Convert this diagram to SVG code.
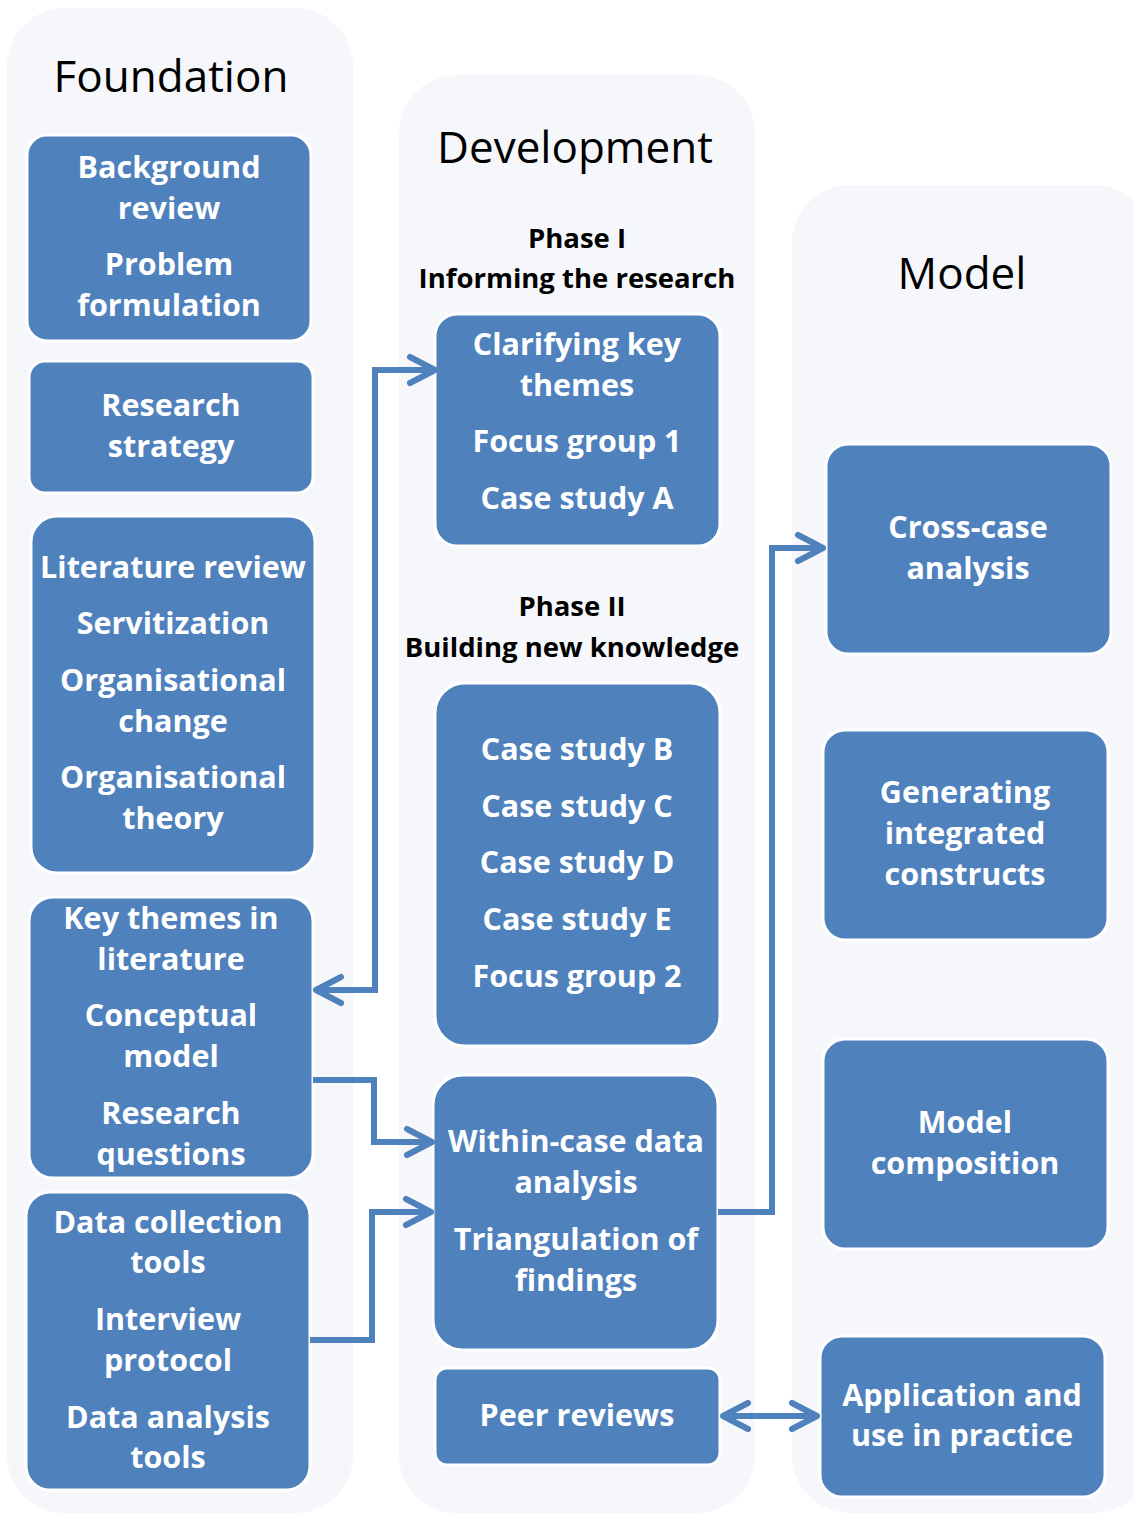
<svg xmlns="http://www.w3.org/2000/svg" width="1134" height="1513" viewBox="0 0 1134 1513">
<defs>
<style>
.panel{fill:#F5F7FB;}
.box{fill:#4F81BD;stroke:#FFFFFF;stroke-width:3;}
.bt{font-family:"Open Sans","Liberation Sans",sans-serif;font-weight:700;font-size:30.5px;fill:#FFFFFF;text-anchor:middle;}
.title{font-family:"Open Sans","Liberation Sans",sans-serif;font-weight:400;font-size:44px;fill:#000000;text-anchor:middle;}
.phase{font-family:"Open Sans","Liberation Sans",sans-serif;font-weight:700;font-size:27.5px;fill:#000000;text-anchor:middle;}
.conn{fill:none;stroke:#4F81BD;stroke-width:6;stroke-linejoin:miter;}
</style>
<marker id="arr" markerUnits="userSpaceOnUse" markerWidth="40" markerHeight="40" viewBox="-34 -20 40 40" refX="0" refY="0" orient="auto-start-reverse">
<path d="M -25 -13 L 0 0 L -25 13" fill="none" stroke="#4F81BD" stroke-width="6" stroke-linecap="round" stroke-linejoin="round"/>
</marker>
</defs>
<rect width="1134" height="1513" fill="#FFFFFF"/>
<g id="panels">
<rect id="panel-foundation" class="panel" x="7" y="8" width="346" height="1505" rx="58"/>
<rect id="panel-development" class="panel" x="399" y="75" width="356" height="1438" rx="58"/>
<rect id="panel-model" class="panel" x="792" y="185" width="360" height="1328" rx="58"/>
</g>
<g id="titles">
<text class="title" x="171" y="92">Foundation</text>
<text class="title" x="575" y="163">Development</text>
<text class="title" x="962" y="289">Model</text>
<text class="phase" x="577" y="248">Phase I</text>
<text class="phase" x="577" y="288">Informing the research</text>
<text class="phase" x="572" y="616">Phase II</text>
<text class="phase" x="572" y="657">Building new knowledge</text>
</g>
<g id="node-background">
<rect class="box" x="27" y="135" width="284" height="206" rx="20"/>
<text class="bt" x="169" y="178">Background</text>
<text class="bt" x="169" y="219">review</text>
<text class="bt" x="169" y="275">Problem</text>
<text class="bt" x="169" y="316">formulation</text>
</g>
<g id="node-strategy">
<rect class="box" x="29" y="361" width="284" height="132" rx="16"/>
<text class="bt" x="171" y="416">Research</text>
<text class="bt" x="171" y="457">strategy</text>
</g>
<g id="node-literature">
<rect class="box" x="31" y="516" width="284" height="357" rx="26"/>
<text class="bt" x="173" y="578">Literature review</text>
<text class="bt" x="173" y="634">Servitization</text>
<text class="bt" x="173" y="691">Organisational</text>
<text class="bt" x="173" y="732">change</text>
<text class="bt" x="173" y="788">Organisational</text>
<text class="bt" x="173" y="829">theory</text>
</g>
<g id="node-keythemes">
<rect class="box" x="29" y="897" width="284" height="281" rx="24"/>
<text class="bt" x="171" y="929">Key themes in</text>
<text class="bt" x="171" y="970">literature</text>
<text class="bt" x="171" y="1026">Conceptual</text>
<text class="bt" x="171" y="1067">model</text>
<text class="bt" x="171" y="1124">Research</text>
<text class="bt" x="171" y="1165">questions</text>
</g>
<g id="node-datacollection">
<rect class="box" x="26" y="1192" width="284" height="298" rx="24"/>
<text class="bt" x="168" y="1233">Data collection</text>
<text class="bt" x="168" y="1273">tools</text>
<text class="bt" x="168" y="1330">Interview</text>
<text class="bt" x="168" y="1371">protocol</text>
<text class="bt" x="168" y="1428">Data analysis</text>
<text class="bt" x="168" y="1468">tools</text>
</g>
<g id="node-clarifying">
<rect class="box" x="435" y="314" width="285" height="232" rx="22"/>
<text class="bt" x="577" y="355">Clarifying key</text>
<text class="bt" x="577" y="396">themes</text>
<text class="bt" x="577" y="452">Focus group 1</text>
<text class="bt" x="577" y="509">Case study A</text>
</g>
<g id="node-casestudies">
<rect class="box" x="435" y="683" width="285" height="363" rx="30"/>
<text class="bt" x="577" y="760">Case study B</text>
<text class="bt" x="577" y="817">Case study C</text>
<text class="bt" x="577" y="873">Case study D</text>
<text class="bt" x="577" y="930">Case study E</text>
<text class="bt" x="577" y="987">Focus group 2</text>
</g>
<g id="node-withincase">
<rect class="box" x="433" y="1075" width="285" height="275" rx="30"/>
<text class="bt" x="576" y="1152">Within-case data</text>
<text class="bt" x="576" y="1193">analysis</text>
<text class="bt" x="576" y="1250">Triangulation of</text>
<text class="bt" x="576" y="1291">findings</text>
</g>
<g id="node-peer">
<rect class="box" x="435" y="1368" width="285" height="97" rx="12"/>
<text class="bt" x="577" y="1426">Peer reviews</text>
</g>
<g id="node-crosscase">
<rect class="box" x="826" y="444" width="285" height="210" rx="22"/>
<text class="bt" x="968" y="538">Cross-case</text>
<text class="bt" x="968" y="579">analysis</text>
</g>
<g id="node-generating">
<rect class="box" x="823" y="730" width="285" height="210" rx="22"/>
<text class="bt" x="965" y="803">Generating</text>
<text class="bt" x="965" y="844">integrated</text>
<text class="bt" x="965" y="885">constructs</text>
</g>
<g id="node-composition">
<rect class="box" x="823" y="1039" width="285" height="210" rx="22"/>
<text class="bt" x="965" y="1133">Model</text>
<text class="bt" x="965" y="1174">composition</text>
</g>
<g id="node-application">
<rect class="box" x="820" y="1336" width="285" height="161" rx="22"/>
<text class="bt" x="962" y="1406">Application and</text>
<text class="bt" x="962" y="1446">use in practice</text>
</g>
<g id="connectors">
<path class="conn" d="M 316 990 L 375 990 L 375 370 L 435 370" marker-start="url(#arr)" marker-end="url(#arr)"/>
<path class="conn" d="M 313 1080 L 374 1080 L 374 1142 L 432 1142" marker-end="url(#arr)"/>
<path class="conn" d="M 310 1340 L 372 1340 L 372 1212 L 431 1212" marker-end="url(#arr)"/>
<path class="conn" d="M 718 1212 L 772 1212 L 772 548 L 823 548" marker-end="url(#arr)"/>
<path class="conn" d="M 723 1416 L 817 1416" marker-start="url(#arr)" marker-end="url(#arr)"/>
</g>
</svg>
